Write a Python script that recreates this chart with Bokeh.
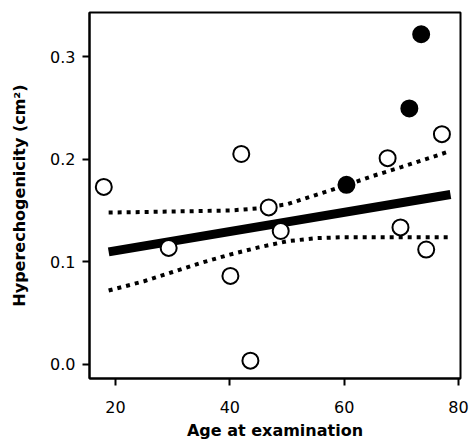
from bokeh.plotting import figure
from bokeh.models import FixedTicker, Range1d
from bokeh.embed import file_html
from bokeh.resources import INLINE

# ---- data ----
age_open = [17.95, 29.3, 40.1, 42.0, 43.6, 46.8, 48.9, 67.6, 69.85, 74.35, 77.1]
hyper_open = [0.173, 0.1135, 0.0862, 0.2051, 0.0036, 0.153, 0.130, 0.201, 0.1335, 0.1119, 0.2244]
age_filled = [60.4, 71.4, 73.47]
hyper_filled = [0.175, 0.2495, 0.3218]

fit_age = [18.8, 78.6]
fit_val = [0.1096, 0.1656]

band_age = [18.8, 25, 30, 35, 40, 45, 50, 55, 60, 65, 70, 75, 78.6]
band_upper = [0.148, 0.1485, 0.149, 0.1495, 0.150, 0.152, 0.156, 0.165, 0.174, 0.1836, 0.1923, 0.2013, 0.208]
band_lower = [0.072, 0.081, 0.090, 0.099, 0.107, 0.114, 0.120, 0.123, 0.124, 0.124, 0.124, 0.124, 0.124]

x_ticks = [20, 40, 60, 80]
y_ticks = [0.0, 0.1, 0.2, 0.3]
y_tick_labels = ["0.0", "0.1", "0.2", "0.3"]

x_label = "Age at examination"
y_label = "Hyperechogenicity (cm\u00b2)"

FONT = "DejaVu Sans"

p = figure(width=470, height=442, output_backend="svg", toolbar_location=None,
           x_range=Range1d(15.45, 80.35), y_range=Range1d(-0.0138, 0.343),
           min_border_left=89, min_border_right=10, min_border_top=12, min_border_bottom=60)

p.background_fill_color = "white"
p.border_fill_color = "white"
p.outline_line_color = "black"
p.outline_line_width = 2
p.outline_line_alpha = 1.0
p.xgrid.visible = False
p.ygrid.visible = False

for ax in (p.xaxis[0], p.yaxis[0]):
    ax.axis_line_width = 2
    ax.axis_line_color = "black"
    ax.major_tick_line_width = 2
    ax.major_tick_line_color = "black"
    ax.major_tick_out = 7
    ax.major_tick_in = 0
    ax.minor_tick_line_color = None
    ax.major_label_text_font = FONT
    ax.major_label_text_font_size = "16px"
    ax.major_label_text_color = "black"
    ax.axis_label_text_font = FONT
    ax.axis_label_text_font_size = "16px"
    ax.axis_label_text_font_style = "bold"
    ax.axis_label_text_color = "black"

p.xaxis.ticker = FixedTicker(ticks=x_ticks)
p.yaxis.ticker = FixedTicker(ticks=y_ticks)
p.yaxis.major_label_overrides = {t: l for t, l in zip(y_ticks, y_tick_labels)}
p.xaxis.axis_label = x_label
p.yaxis.axis_label = y_label
p.xaxis.major_label_standoff = 15
p.xaxis.axis_label_standoff = 5
p.yaxis.major_label_standoff = 7
p.yaxis.axis_label_standoff = 18

# confidence bands
p.line(band_age, band_upper, line_color="black", line_width=4, line_dash="4 5", line_cap="butt")
p.line(band_age, band_lower, line_color="black", line_width=4, line_dash="4 5", line_cap="butt")
# regression line
p.line(fit_age, fit_val, line_color="black", line_width=9, line_cap="butt")

# points
p.scatter(age_open, hyper_open, size=16, marker="circle", fill_color="white",
          line_color="black", line_width=2)
p.scatter(age_filled, hyper_filled, size=16, marker="circle", fill_color="black",
          line_color="black", line_width=2)

open("out.html", "w").write(file_html(p, INLINE))
